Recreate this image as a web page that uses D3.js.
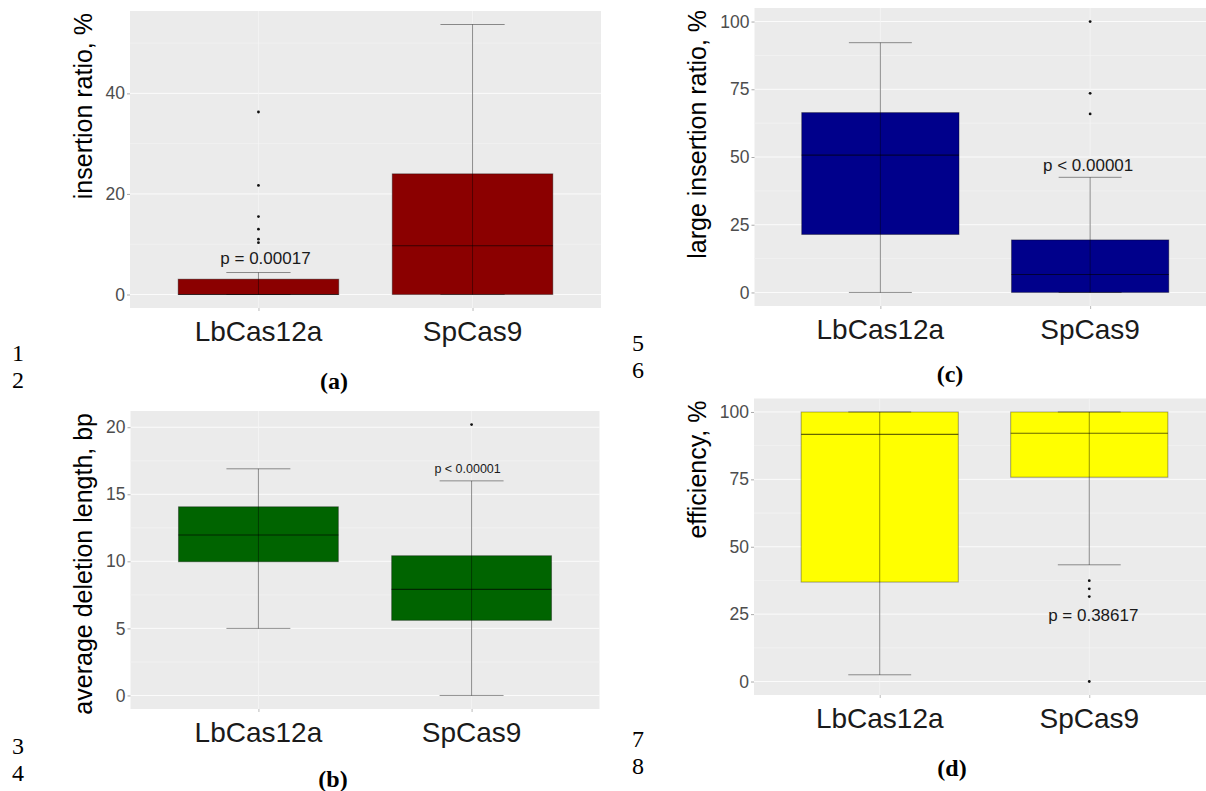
<!DOCTYPE html>
<html>
<head>
<meta charset="utf-8">
<script src="https://cdn.jsdelivr.net/npm/d3@7"></script>
<style>
  html, body { margin: 0; padding: 0; background: #ffffff; }
  svg { display: block; }
</style>
</head>
<body>
<svg id="chart" width="1206" height="791"></svg>
<script>
// ---------------- DATA ----------------
const categories = ["LbCas12a", "SpCas9"];

// box summaries per category: [lower whisker, Q1, median, Q3, upper whisker]
const insertionBoxes = [[0, 0, 0, 3.05, 4.37], [0, 0, 9.7, 24.0, 53.7]];
const insertionOutliers = [[36.3, 21.7, 15.5, 13.0, 11.0, 10.3], []];
const insertionTicks = [0, 20, 40];

const deletionBoxes = [[5.0, 9.97, 11.96, 14.07, 16.9], [0, 5.6, 7.91, 10.42, 16.0]];
const deletionOutliers = [[], [20.2]];
const deletionTicks = [0, 5, 10, 15, 20];

const largeInsertionBoxes = [[0, 21.4, 50.7, 66.4, 92.2], [0, 0, 6.6, 19.4, 42.5]];
const largeInsertionOutliers = [[], [100, 73.5, 65.9]];
const largeInsertionTicks = [0, 25, 50, 75, 100];

const efficiencyBoxes = [[2.5, 36.9, 91.7, 100, 100], [43.3, 75.8, 92.1, 100, 100]];
const efficiencyOutliers = [[], [37.4, 34.4, 31.5, 0]];
const efficiencyTicks = [0, 25, 50, 75, 100];

const yTitles = ["insertion ratio, %", "average deletion length, bp", "large insertion ratio, %", "efficiency, %"];
const pLabels = ["p = 0.00017", "p < 0.00001", "p < 0.00001", "p = 0.38617"];
const panelLetters = ["(a)", "(b)", "(c)", "(d)"];
const lineNumbers = [["1", "2"], ["3", "4"], ["5", "6"], ["7", "8"]];

// ---------------- LAYOUT ----------------
const panels = [
  { boxes: insertionBoxes, outliers: insertionOutliers, ticks: insertionTicks, title: yTitles[0], p: pLabels[0],
    fill: "#8b0000", left: 130, right: 601, top: 11, bottom: 308,
    pCat: 0, pDx: 7, pVal: 6.1, pSize: 17,
    titleX: 92, letter: panelLetters[0], letterX: 334, letterY: 389,
    nums: lineNumbers[0], numX: 18, numY: 361 },
  { boxes: deletionBoxes, outliers: deletionOutliers, ticks: deletionTicks, title: yTitles[1], p: pLabels[1],
    fill: "#006400", left: 130.5, right: 599.5, top: 411, bottom: 709,
    pCat: 1, pDx: -4, pVal: 16.6, pSize: 12.5,
    titleX: 92, letter: panelLetters[1], letterX: 333, letterY: 787,
    nums: lineNumbers[1], numX: 18, numY: 754 },
  { boxes: largeInsertionBoxes, outliers: largeInsertionOutliers, ticks: largeInsertionTicks, title: yTitles[2], p: pLabels[2],
    fill: "#00008b", left: 754.5, right: 1216, top: 8, bottom: 306,
    pCat: 1, pDx: -2, pVal: 44.8, pSize: 17,
    titleX: 706, letter: panelLetters[2], letterX: 950, letterY: 382,
    nums: lineNumbers[2], numX: 638, numY: 351 },
  { boxes: efficiencyBoxes, outliers: efficiencyOutliers, ticks: efficiencyTicks, title: yTitles[3], p: pLabels[3],
    fill: "#ffff00", left: 754, right: 1215, top: 398.5, bottom: 695,
    pCat: 1, pDx: 4, pVal: 22.3, pSize: 17,
    titleX: 706, letter: panelLetters[3], letterX: 952, letterY: 776,
    nums: lineNumbers[3], numX: 638, numY: 747 }
];

const svg = d3.select("#chart");
svg.append("rect").attr("width", 1206).attr("height", 791).attr("fill", "#ffffff");

const sans = "'Liberation Sans', Arial, Helvetica, sans-serif";
const serif = "'Liberation Serif', 'Times New Roman', serif";

panels.forEach(P => {
  const g = svg.append("g");

  // data extent with 5% expansion (ggplot style)
  const allVals = [];
  P.boxes.forEach(b => { allVals.push(b[0], b[4]); });
  P.outliers.forEach(o => o.forEach(v => allVals.push(v)));
  const lo = d3.min(allVals), hi = d3.max(allVals);
  const pad = (hi - lo) * 0.05;

  const y = d3.scaleLinear().domain([lo - pad, hi + pad]).range([P.bottom, P.top]);
  const x = d3.scalePoint().domain(categories).range([P.left, P.right]).padding(0.6);
  const step = x.step();
  const boxW = step * 0.75;
  const capW = step * 0.3;

  // panel background
  g.append("rect")
    .attr("x", P.left).attr("y", P.top)
    .attr("width", P.right - P.left).attr("height", P.bottom - P.top)
    .attr("fill", "#ebebeb");

  // minor grid
  const minor = [];
  const tstep = P.ticks[1] - P.ticks[0];
  for (let i = 0; i <= P.ticks.length; i++) {
    const v = P.ticks[0] - tstep / 2 + i * tstep;
    if (v > y.domain()[0] && v < y.domain()[1]) minor.push(v);
  }
  g.selectAll(".minor").data(minor).enter().append("line")
    .attr("x1", P.left).attr("x2", P.right)
    .attr("y1", d => y(d)).attr("y2", d => y(d))
    .attr("stroke", "#f3f3f3").attr("stroke-width", 0.8);

  // major grid
  g.selectAll(".major").data(P.ticks).enter().append("line")
    .attr("x1", P.left).attr("x2", P.right)
    .attr("y1", d => y(d)).attr("y2", d => y(d))
    .attr("stroke", "#fbfbfb").attr("stroke-width", 1);
  g.selectAll(".vmajor").data(categories).enter().append("line")
    .attr("x1", d => x(d)).attr("x2", d => x(d))
    .attr("y1", P.top).attr("y2", P.bottom)
    .attr("stroke", "#f5f5f5").attr("stroke-width", 0.8);

  // y axis
  const yAxis = d3.axisLeft(y).tickValues(P.ticks).tickSize(3).tickPadding(2).tickFormat(d3.format("d"));
  const ya = g.append("g").attr("transform", `translate(${P.left},0)`).call(yAxis);
  ya.select(".domain").remove();
  ya.selectAll(".tick line").attr("stroke", "#aaaaaa");
  ya.selectAll(".tick text").attr("fill", "#4d4d4d").style("font-family", sans).style("font-size", "17.5px");

  // x axis
  const xAxis = d3.axisBottom(x).tickSize(3).tickPadding(4);
  const xa = g.append("g").attr("transform", `translate(0,${P.bottom})`).call(xAxis);
  xa.select(".domain").remove();
  xa.selectAll(".tick line").attr("stroke", "#bbbbbb");
  xa.selectAll(".tick text").remove();
  g.selectAll(".xlab").data(categories).enter().append("text")
    .attr("x", d => x(d)).attr("y", P.bottom + 33)
    .attr("text-anchor", "middle")
    .attr("fill", "#1a1a1a")
    .style("font-family", sans).style("font-size", "28px")
    .text(d => d);

  // boxes
  categories.forEach((c, i) => {
    const b = P.boxes[i];
    const cx = x(c);
    g.append("rect")
      .attr("x", cx - boxW / 2).attr("y", y(b[3]))
      .attr("width", boxW).attr("height", Math.max(0, y(b[1]) - y(b[3])))
      .attr("fill", P.fill)
      .attr("stroke", "rgba(0,0,0,0.35)").attr("stroke-width", 1);
    // median
    g.append("line")
      .attr("x1", cx - boxW / 2).attr("x2", cx + boxW / 2)
      .attr("y1", y(b[2])).attr("y2", y(b[2]))
      .attr("stroke", "rgba(0,0,0,0.6)").attr("stroke-width", 1.1);
    // whisker (errorbar) line through whole range
    g.append("line")
      .attr("x1", cx).attr("x2", cx)
      .attr("y1", y(b[0])).attr("y2", y(b[4]))
      .attr("stroke", "rgba(0,0,0,0.42)").attr("stroke-width", 1);
    [b[0], b[4]].forEach(v => {
      g.append("line")
        .attr("x1", cx - capW / 2).attr("x2", cx + capW / 2)
        .attr("y1", y(v)).attr("y2", y(v))
        .attr("stroke", "rgba(0,0,0,0.42)").attr("stroke-width", 1);
    });
    // outliers
    g.selectAll(null).data(P.outliers[i]).enter().append("circle")
      .attr("cx", cx).attr("cy", d => y(d)).attr("r", 1.4)
      .attr("fill", "#111111");
  });

  // p label
  g.append("text")
    .attr("x", x(categories[P.pCat]) + P.pDx).attr("y", y(P.pVal))
    .attr("text-anchor", "middle")
    .attr("fill", "#1a1a1a")
    .style("font-family", sans).style("font-size", P.pSize + "px")
    .text(P.p);

  // y title
  g.append("text")
    .attr("transform", `translate(${P.titleX},${P.top + 2}) rotate(-90)`)
    .attr("text-anchor", "end")
    .attr("fill", "#000000")
    .style("font-family", sans).style("font-size", "25px")
    .text(P.title);

  // panel letter
  g.append("text")
    .attr("x", P.letterX).attr("y", P.letterY)
    .attr("text-anchor", "middle")
    .style("font-family", serif).style("font-size", "24px").style("font-weight", "bold")
    .text(P.letter);

  // line numbers (two stacked lines)
  P.nums.forEach((n, k) => {
    g.append("text")
      .attr("x", P.numX).attr("y", P.numY + k * 27)
      .attr("text-anchor", "middle")
      .style("font-family", serif).style("font-size", "24px")
      .text(n);
  });
});
</script>
</body>
</html>
